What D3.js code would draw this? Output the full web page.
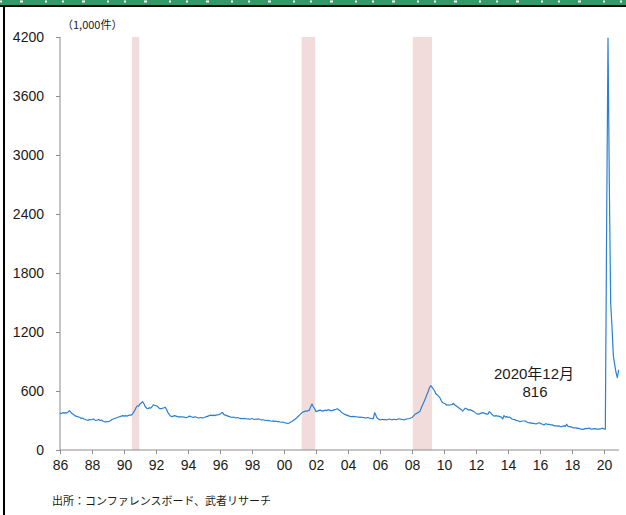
<!DOCTYPE html>
<html>
<head>
<meta charset="utf-8">
<script src="https://cdn.jsdelivr.net/npm/d3@7"></script>
<style>
  html, body { margin: 0; padding: 0; background: #fff; }
  svg { display: block; }
</style>
</head>
<body>
<svg id="chart" width="626" height="515"></svg>
<script>
// ---- Data (monthly average of weekly initial jobless claims, thousands) ----
const startYear = 1986;
const claims1986_1995 = [
  375, 370, 380, 375, 380, 375, 385, 400, 385, 370, 365, 350,
  345, 340, 335, 330, 320, 325, 315, 310, 305, 300, 310, 305,
  310, 315, 305, 300, 305, 310, 300, 305, 295, 290, 285, 290,
  288, 292, 300, 310, 315, 320, 325, 330, 335, 340, 345, 350,
  345, 350, 345, 350, 355, 355, 360, 380, 400, 430, 450, 445,
  470, 480, 491, 470, 440, 425, 420, 430, 425, 440, 460, 455,
  450, 445, 430, 420, 420, 425, 430, 435, 410, 380, 360, 345,
  340, 345, 350, 345, 340, 335, 340, 335, 338, 335, 330, 330,
  335, 345, 340, 335, 330, 338, 335, 330, 325, 328, 330, 325,
  330, 335, 340, 345, 350, 355, 350, 355, 350, 355, 358, 360
];
const claims1996_2005 = [
  365, 375, 380, 360, 355, 350, 345, 340, 335, 330, 335, 330,
  325, 330, 325, 320, 322, 318, 322, 320, 315, 318, 312, 315,
  320, 315, 310, 315, 312, 318, 310, 305, 308, 305, 300, 302,
  298, 300, 295, 292, 296, 290, 295, 288, 290, 285, 282, 285,
  280, 275, 272, 270, 275, 285, 290, 300, 310, 320, 335, 345,
  360, 375, 385, 390, 395, 395, 400, 405, 440, 468, 440, 420,
  390, 395, 400, 405, 400, 395, 400, 405, 400, 410, 405, 400,
  400, 405, 410, 414, 420, 410, 400, 385, 375, 365, 360, 355,
  350, 345, 340, 339, 342, 340, 338, 336, 335, 332, 335, 330,
  330, 325, 328, 330, 325, 322, 320, 318, 380, 350, 320, 315
];
const claims2006_2015 = [
  305, 310, 312, 308, 310, 305, 310, 315, 310, 305, 312, 310,
  308, 312, 318, 315, 312, 310, 305, 312, 315, 318, 320, 325,
  330, 345, 360, 370, 375, 385, 395, 430, 460, 490, 520, 560,
  590, 630, 654, 640, 620, 600, 570, 560, 545, 530, 500, 480,
  475, 470, 455, 460, 455, 460, 460, 475, 460, 450, 440, 430,
  420, 410, 395, 410, 425, 420, 410, 405, 410, 400, 395, 385,
  375, 365, 365, 370, 375, 380, 375, 370, 365, 365, 390, 380,
  360, 350, 345, 350, 345, 345, 340, 335, 315, 350, 335, 340,
  330, 335, 325, 315, 310, 310, 300, 298, 295, 288, 292, 295,
  295, 295, 285, 280, 275, 278, 270, 272, 268, 265, 270, 275
];
const claims2016_2020 = [
  275, 265, 262, 255, 265, 265, 260, 262, 255, 255, 250, 245,
  245, 242, 245, 240, 238, 242, 245, 240, 262, 240, 238, 235,
  232, 225, 225, 225, 220, 222, 215, 213, 210, 212, 220, 218,
  220, 222, 215, 212, 215, 218, 215, 212, 212, 215, 218, 222,
  213, 212, 2340, 4190, 2700, 1495, 1250, 960, 870, 790, 735, 816
];
const claims = [].concat(claims1986_1995, claims1996_2005, claims2006_2015, claims2016_2020);

// recession periods (decimal years)
const recessionStart = [1990.5, 2001.1, 2008.05];
const recessionEnd   = [1990.95, 2001.95, 2009.25];

const yTicks = [0, 600, 1200, 1800, 2400, 3000, 3600, 4200];
const xTickYears = d3.range(1986, 2021, 2);
const xTickLabels = xTickYears.map(v => String(v % 100).padStart(2, "0"));

const unitLabel = "（1,000件）";
const noteLabel = "出所：コンファレンスボード、武者リサーチ";
const annoLine1 = "2020年12月";
const annoLine2 = "816";

// ---- Drawing ----
const svg = d3.select("#chart");
const W = 626, H = 515;
const mLeft = 60, mRight = 620, mTop = 37, mBottom = 450;

// frame: green band, black rule and left border
svg.append("rect").attr("x", 0).attr("y", 0).attr("width", W).attr("height", 5).attr("fill", "#339966");
svg.append("line").attr("x1", 0).attr("x2", W).attr("y1", 1.5).attr("y2", 1.5)
  .attr("stroke", "#ffffff").attr("stroke-width", 2).attr("stroke-dasharray", "2,18,3,22,2,15");
svg.append("rect").attr("x", 0).attr("y", 5).attr("width", W).attr("height", 2).attr("fill", "#000");
svg.append("rect").attr("x", 3).attr("y", 5).attr("width", 2).attr("height", H - 5).attr("fill", "#000");

const x = d3.scaleLinear().domain([1986, 2021]).range([mLeft, mRight]);
const y = d3.scaleLinear().domain([0, 4200]).range([mBottom, mTop]);

// recession shading
svg.append("g").selectAll("rect").data(recessionStart).join("rect")
  .attr("x", (d) => x(d))
  .attr("width", (d, i) => x(recessionEnd[i]) - x(d))
  .attr("y", y(4200))
  .attr("height", y(0) - y(4200))
  .attr("fill", "#F2DCDB");

const font = "'Liberation Sans', Arial, sans-serif";
const axisColor = "#8c8c8c";

// y axis
const yAxis = svg.append("g").attr("transform", `translate(${mLeft},0)`)
  .call(d3.axisLeft(y).tickValues(yTicks).tickSize(4).tickPadding(12).tickFormat(d3.format("d")));
yAxis.select(".domain").attr("stroke", axisColor).attr("d", `M0,${y(4200)}V${y(0)}`);
yAxis.selectAll(".tick line").attr("stroke", axisColor);
yAxis.selectAll(".tick text").attr("fill", "#1a1a1a").style("font-family", font).style("font-size", "14px");

// x axis
const xAxis = svg.append("g").attr("transform", `translate(0,${mBottom})`)
  .call(d3.axisBottom(x).tickValues(xTickYears).tickSize(4).tickPadding(6)
    .tickFormat((d, i) => xTickLabels[i]));
xAxis.select(".domain").attr("stroke", axisColor).attr("d", `M${mLeft},0H${mRight - 1}`);
xAxis.selectAll(".tick line").attr("stroke", axisColor);
xAxis.selectAll(".tick text").attr("fill", "#1a1a1a").style("font-family", font).style("font-size", "14px");

// line
const line = d3.line()
  .x((d, i) => x(startYear + i / 12))
  .y((d) => y(d));
svg.append("path").datum(claims)
  .attr("d", line)
  .attr("fill", "none")
  .attr("stroke", "#2a80d2")
  .attr("stroke-width", 1.2)
  .attr("stroke-linejoin", "round");

// unit label
svg.append("text").attr("x", mLeft + 2).attr("y", 29)
  .attr("fill", "#1a1a1a")
  .style("font-family", "'Noto Sans CJK JP', sans-serif").style("font-size", "11px")
  .text(unitLabel);

// annotation
svg.append("text").attr("x", 534).attr("y", 379).attr("text-anchor", "middle")
  .attr("fill", "#1a1a1a")
  .style("font-family", "'Liberation Sans', 'Noto Sans CJK JP', sans-serif").style("font-size", "15px")
  .text(annoLine1);
svg.append("text").attr("x", 535).attr("y", 397).attr("text-anchor", "middle")
  .attr("fill", "#1a1a1a")
  .style("font-family", font).style("font-size", "15px")
  .text(annoLine2);

// source note
svg.append("text").attr("x", 52).attr("y", 505)
  .attr("fill", "#1a1a1a")
  .style("font-family", "'Noto Sans CJK JP', sans-serif").style("font-size", "11px")
  .text(noteLabel);
</script>
</body>
</html>
